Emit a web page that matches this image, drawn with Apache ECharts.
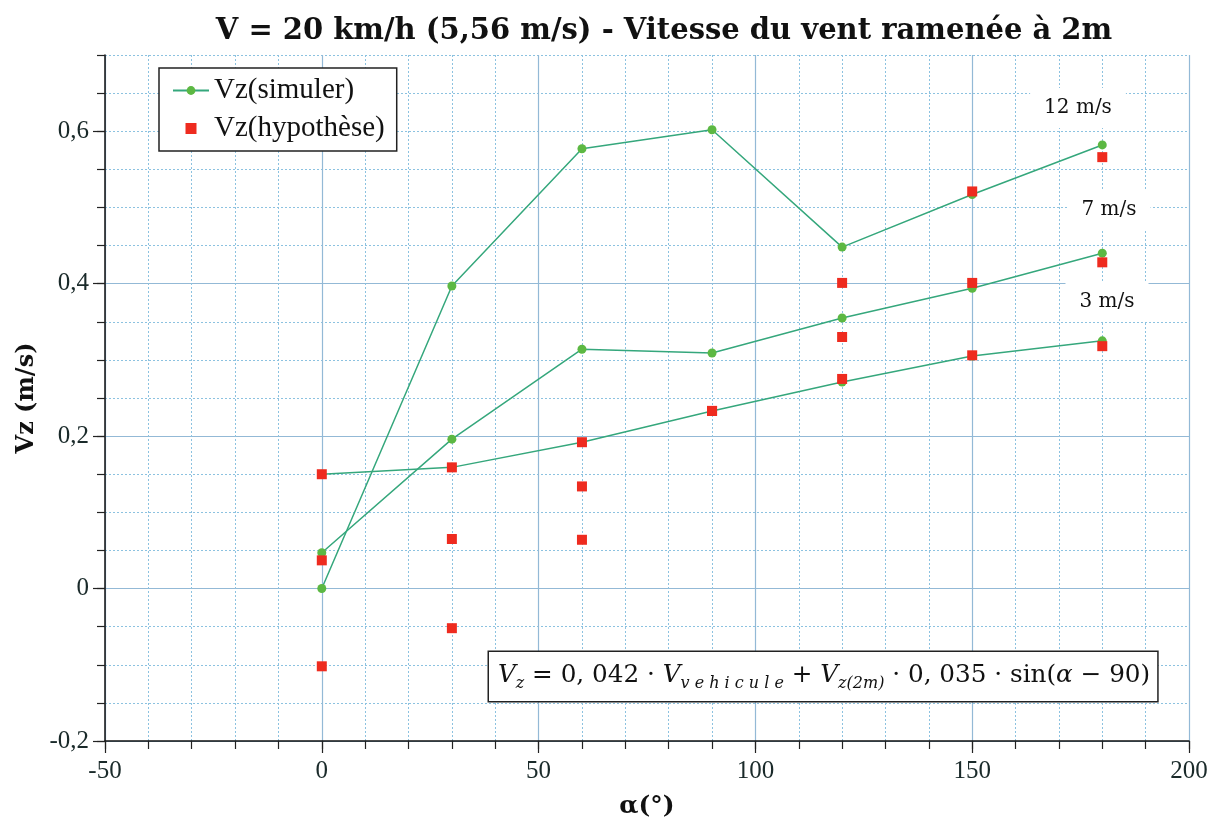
<!DOCTYPE html>
<html>
<head>
<meta charset="utf-8">
<script src="https://cdn.jsdelivr.net/npm/echarts@6/dist/echarts.min.js"></script>
<style>html,body{margin:0;padding:0;background:#fff}#c{width:1211px;height:823px}</style>
</head>
<body>
<div id="c"></div>
<script>
// ---- data ----
var alpha = [0, 30, 60, 90, 120, 150, 180];
var sim3  = [0.150, 0.159, 0.192, 0.233, 0.271, 0.305, 0.325];
var sim7  = [0.047, 0.196, 0.314, 0.309, 0.355, 0.394, 0.440];
var sim12 = [0.000, 0.397, 0.577, 0.602, 0.448, 0.517, 0.582];
var hyp3  = [0.150, 0.159, 0.192, 0.233, 0.275, 0.306, 0.318];
var hyp7  = [0.037, 0.065, 0.134, 0.233, 0.330, 0.401, 0.428];
var hyp12 = [-0.102, -0.052, 0.064, 0.233, 0.401, 0.521, 0.566];
var xTickValues = [-50, 0, 50, 100, 150, 200];
var xTickLabels = ['-50', '0', '50', '100', '150', '200'];
var yTickValues = [-0.2, 0, 0.2, 0.4, 0.6];
var yTickLabels = ['-0,2', '0', '0,2', '0,4', '0,6'];
var windLabels = ['12 m/s', '7 m/s', '3 m/s'];

function pairs(ys) { return alpha.map(function (a, i) { return [a, ys[i]]; }); }
function lookup(vals, labels, v) {
  for (var i = 0; i < vals.length; i++) if (Math.abs(vals[i] - v) < 1e-6) return labels[i];
  return '';
}

var SERIF = '"Liberation Serif", "Times New Roman", serif';
var SERIF2 = '"DejaVu Serif", serif';
var majorColor = '#93b9d6';
var minorColor = '#8cc2e0';
var lineColor = '#35a77c';
var dotColor = '#5cb843';
var redColor = '#ee2b1f';

var chart = echarts.init(document.getElementById('c'), null, { renderer: 'canvas' });

function simSeries(ys) {
  return {
    type: 'line', name: 'Vz(simuler)', xAxisIndex: 0, yAxisIndex: 0,
    data: pairs(ys), symbol: 'circle', symbolSize: 9, z: 3,
    lineStyle: { color: lineColor, width: 1.5 },
    itemStyle: { color: dotColor, opacity: 1 },
    emphasis: { disabled: true }, animation: false
  };
}
function hypSeries(ys) {
  return {
    type: 'scatter', name: 'Vz(hypothèse)', xAxisIndex: 0, yAxisIndex: 0,
    data: pairs(ys), symbol: 'rect', symbolSize: 10, z: 4,
    itemStyle: { color: redColor, opacity: 1 },
    emphasis: { disabled: true }, animation: false
  };
}

var option = {
  backgroundColor: '#ffffff',
  animation: false,
  title: {
    text: 'V = 20 km/h (5,56 m/s) - Vitesse du vent ramenée à 2m',
    left: 659, top: 12, textAlign: 'center',
    textStyle: { fontFamily: SERIF2, fontWeight: 'bold', fontSize: 29, color: '#111' }
  },
  legend: {
    orient: 'vertical', left: 159, top: 68,
    padding: [7, 12, 7, 13], itemGap: 7, itemWidth: 36, itemHeight: 11, itemTextGap: 10,
    backgroundColor: '#fff', borderColor: '#222', borderWidth: 1.5,
    textStyle: { fontFamily: SERIF, fontSize: 29, color: '#111', lineHeight: 31 },
    data: [
      { name: 'Vz(simuler)' },
      { name: 'Vz(hypothèse)', icon: 'path://M0,0H10V10H0Z' }
    ],
    selectedMode: false
  },
  grid: { left: 105, right: 22, top: 55, bottom: 82, containLabel: false, outerBoundsMode: 'none' },
  xAxis: [
    {
      type: 'value', min: -50, max: 200, interval: 10, position: 'bottom',
      axisLine: { show: false, onZero: false },
      axisTick: { show: true, length: 8, lineStyle: { color: '#222', width: 1.2 } },
      axisLabel: { show: false },
      splitLine: { show: true, lineStyle: { color: minorColor, type: [2, 2], width: 1 } }
    },
    {
      type: 'value', min: -50, max: 200, interval: 50, position: 'bottom',
      name: 'α(°)', nameLocation: 'middle', nameGap: 53,
      nameTextStyle: { fontFamily: SERIF2, fontWeight: 'bold', fontSize: 25, color: '#111' },
      axisLine: { show: true, onZero: false, lineStyle: { color: '#111', width: 1.5 } },
      axisTick: { show: true, length: 12, lineStyle: { color: '#222', width: 1.2 } },
      axisLabel: {
        show: true, margin: 18, fontFamily: SERIF, fontSize: 25, color: '#1a2a2a',
        formatter: function (v) { return lookup(xTickValues, xTickLabels, v); }
      },
      splitLine: { show: true, lineStyle: { color: majorColor, width: 1.2 } }
    }
  ],
  yAxis: [
    {
      type: 'value', min: -0.2, max: 0.7, interval: 0.05, position: 'left',
      axisLine: { show: false, onZero: false },
      axisTick: { show: true, length: 8, lineStyle: { color: '#222', width: 1.2 } },
      axisLabel: { show: false },
      splitLine: { show: true, lineStyle: { color: minorColor, type: [2, 2], width: 1 } }
    },
    {
      type: 'value', min: -0.2, max: 0.7, interval: 0.2, position: 'left',
      name: 'Vz (m/s)', nameLocation: 'middle', nameGap: 63, nameRotate: 90,
      nameTextStyle: { fontFamily: SERIF2, fontWeight: 'bold', fontSize: 24, color: '#111' },
      axisLine: { show: true, onZero: false, lineStyle: { color: '#111', width: 1.5 } },
      axisTick: { show: true, length: 12, customValues: yTickValues, lineStyle: { color: '#222', width: 1.2 } },
      axisLabel: {
        show: true, margin: 16, fontFamily: SERIF, fontSize: 25, color: '#1a2a2a',
        customValues: yTickValues,
        formatter: function (v) { return lookup(yTickValues, yTickLabels, v); }
      },
      splitLine: { show: true, showMaxLine: false, lineStyle: { color: majorColor, width: 1.2 } }
    }
  ],
  series: [
    simSeries(sim12), simSeries(sim7), simSeries(sim3),
    hypSeries(hyp12), hypSeries(hyp7), hypSeries(hyp3)
  ],
  graphic: [
    {
      type: 'text', x: 1078, y: 108, z: 10,
      style: {
        text: windLabels[0], fontFamily: SERIF2, fontSize: 20, fill: '#111',
        align: 'center', verticalAlign: 'middle',
        backgroundColor: '#fff', padding: [10, 14]
      }
    },
    {
      type: 'text', x: 1109, y: 210, z: 10,
      style: {
        text: windLabels[1], fontFamily: SERIF2, fontSize: 20, fill: '#111',
        align: 'center', verticalAlign: 'middle',
        backgroundColor: '#fff', padding: [10, 14]
      }
    },
    {
      type: 'text', x: 1107, y: 302, z: 10,
      style: {
        text: windLabels[2], fontFamily: SERIF2, fontSize: 20, fill: '#111',
        align: 'center', verticalAlign: 'middle',
        backgroundColor: '#fff', padding: [10, 14]
      }
    },
    {
      type: 'text', x: 489, y: 652, z: 10,
      style: {
        text: '{v|V}{s|z}{n| = 0, 042 · }{v|V}{s|v e h i c u l e}{n| + }{v|V}{s|z(2m)}{n| · 0, 035 · sin(}{v|α}{n| − 90)}',
        align: 'left', verticalAlign: 'top',
        backgroundColor: '#fff', borderColor: '#222', borderWidth: 1.5,
        padding: [8, 7, 9, 9],
        rich: {
          v: { fontFamily: SERIF2, fontStyle: 'italic', fontSize: 24.7, lineHeight: 32, fill: '#111' },
          n: { fontFamily: SERIF2, fontSize: 24.7, lineHeight: 32, fill: '#111' },
          s: { fontFamily: SERIF2, fontStyle: 'italic', fontSize: 16, lineHeight: 15, verticalAlign: 'bottom', fill: '#111' }
        }
      }
    }
  ]
};
chart.setOption(option);
</script>
</body>
</html>
